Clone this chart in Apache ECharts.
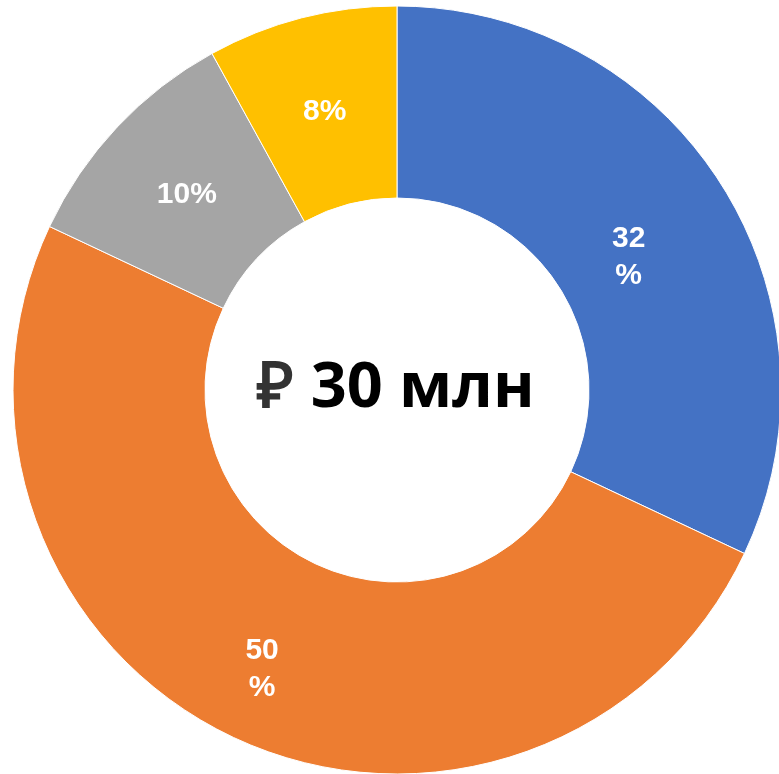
<!DOCTYPE html>
<html>
<head>
<meta charset="utf-8">
<script src="https://cdn.jsdelivr.net/npm/echarts@6/dist/echarts.min.js"></script>
<style>
html,body{margin:0;padding:0;background:#fff;}
#chart{width:779px;height:774px;}
</style>
</head>
<body>
<div id="chart"></div>
<script>
var categories = ['A', 'B', 'C', 'D'];
var values = [32, 50, 10, 8];
var labelTexts = ['32\n%', '50\n%', '10%', '8%'];
var centerCurrency = '₽';
var centerValue = '30 млн';
var colors = ['#4472C4', '#ED7D31', '#A5A5A5', '#FFC000'];
var labelOffsets = [[-14, 23], [-11, 16], [2, 4], [0, 4]];

var chart = echarts.init(document.getElementById('chart'), null, {renderer: 'canvas'});
var data = categories.map(function (c, i) {
  return {
    name: c,
    value: values[i],
    itemStyle: {color: colors[i]},
    label: {offset: labelOffsets[i]}
  };
});
var centerFont = {fontFamily: 'Open Sans', fontWeight: 'bold', fontSize: 63};
chart.setOption({
  animation: false,
  backgroundColor: '#ffffff',
  title: {
    text: '{r|' + centerCurrency + '} {t|' + centerValue + '}',
    left: 391,
    top: 384,
    textAlign: 'center',
    textVerticalAlign: 'middle',
    textStyle: {
      fontFamily: 'Open Sans',
      fontWeight: 'bold',
      fontSize: 63,
      color: '#000',
      rich: {
        r: Object.assign({color: '#333333'}, centerFont),
        t: Object.assign({color: '#000000'}, centerFont)
      }
    }
  },
  series: [{
    type: 'pie',
    center: [397, 390],
    radius: [192, 384],
    startAngle: 90,
    clockwise: true,
    avoidLabelOverlap: false,
    itemStyle: {borderColor: '#fff', borderWidth: 1},
    label: {
      show: true,
      position: 'inside',
      formatter: function (p) { return labelTexts[p.dataIndex]; },
      color: '#fff',
      fontFamily: 'Liberation Sans',
      fontWeight: 'bold',
      fontSize: 30,
      lineHeight: 37
    },
    labelLine: {show: false},
    emphasis: {disabled: true},
    data: data
  }]
});
</script>
</body>
</html>
